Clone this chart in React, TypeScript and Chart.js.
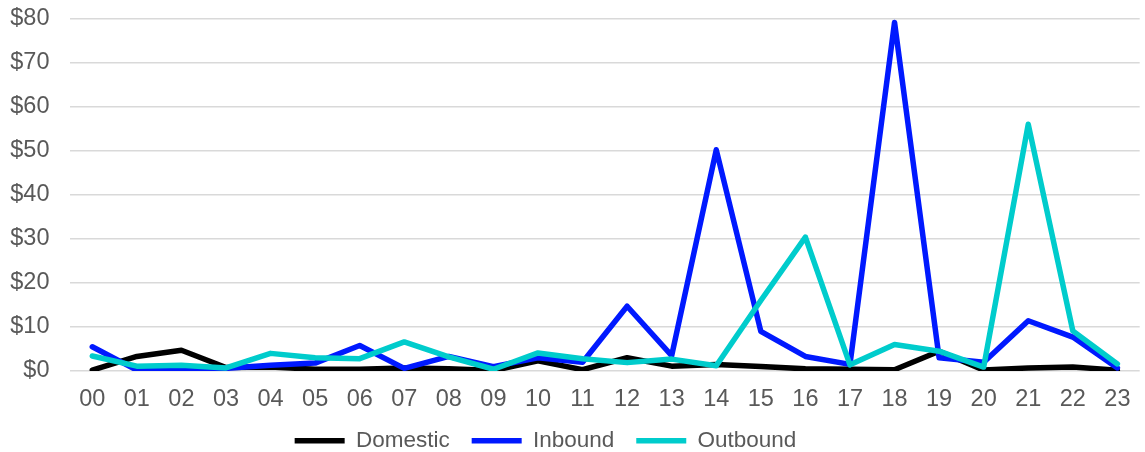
import React, { useEffect, useRef } from "react";
import { Chart, registerables } from "chart.js";

Chart.register(...registerables);

const hours = ["00","01","02","03","04","05","06","07","08","09","10","11","12","13","14","15","16","17","18","19","20","21","22","23"];
const domestic = [0.2, 3.3, 4.7, 0.8, 0.9, 0.4, 0.4, 0.7, 0.5, 0.1, 2.3, 0.3, 3.0, 1.1, 1.5, 1.0, 0.5, 0.4, 0.3, 4.5, 0.2, 0.7, 0.9, 0.2];
const inbound = [5.5, 0.2, 0.3, 0.6, 1.3, 1.8, 5.8, 0.6, 3.3, 1.0, 3.0, 2.0, 14.7, 3.5, 50.2, 9.0, 3.3, 1.5, 79.1, 3.0, 2.0, 11.4, 7.7, 0.7];
const outbound = [3.4, 1.1, 1.3, 0.7, 4.0, 3.0, 2.8, 6.6, 3.2, 0.4, 4.1, 2.8, 1.9, 2.7, 1.2, 16.0, 30.4, 1.4, 6.0, 4.5, 0.9, 56.0, 9.1, 1.6];
const yTicks = [0, 10, 20, 30, 40, 50, 60, 70, 80];

const TEXT = "#595959";
const FONT = "'Liberation Sans', Arial, sans-serif";

const legendShift = {
  id: "legendShift",
  afterLayout(chart: any) {
    const l = chart.legend;
    if (l) {
      l.left -= 30;
      l.right -= 30;
      l.top += 10;
      l.bottom += 10;
    }
    const x = chart.scales.x;
    if (x) x.bottom = chart.height;
  },
};

export default function App() {
  const ref = useRef<HTMLCanvasElement | null>(null);
  useEffect(() => {
    document.body.style.margin = "0";
    if (!ref.current) return;
    const common = {
      borderWidth: 5.5,
      pointRadius: 0,
      pointHoverRadius: 0,
      tension: 0,
      borderCapStyle: "round" as const,
      borderJoinStyle: "round" as const,
      fill: false,
    };
    const chart = new Chart(ref.current, {
      type: "line",
      data: {
        labels: hours,
        datasets: [
          { label: "Domestic", data: domestic, borderColor: "#000000", backgroundColor: "#000000", order: 2, ...common },
          { label: "Inbound", data: inbound, borderColor: "#0019ff", backgroundColor: "#0019ff", order: 1, ...common },
          { label: "Outbound", data: outbound, borderColor: "#00cccc", backgroundColor: "#00cccc", order: 0, ...common },
        ],
      },
      options: {
        animation: false,
        responsive: false,
        layout: { padding: { left: 8, right: 2, top: 0, bottom: 0 } },
        scales: {
          x: {
            offset: true,
            grid: { display: false, drawTicks: false },
            border: { display: false },
            ticks: { color: TEXT, font: { family: FONT, size: 23.5 }, padding: 14.5, maxRotation: 0, autoSkip: false },
            afterFit: (scale: any) => { scale.height = 26.5; },
          },
          y: {
            min: 0,
            max: 80,
            afterBuildTicks: (scale: any) => { scale.ticks = yTicks.map((v) => ({ value: v })); },
            afterFit: (scale: any) => {
              scale.width = 62;
              scale.paddingTop = 18.5;
              scale.paddingBottom = 14;
            },
            grid: { color: "#d9d9d9", lineWidth: 1.5, drawTicks: false },
            border: { display: false },
            ticks: {
              color: TEXT,
              font: { family: FONT, size: 23.5 },
              padding: 20.5,
              callback: (v: any) => "$" + v,
            },
          },
        },
        plugins: {
          tooltip: { enabled: false },
          legend: {
            position: "bottom",
            labels: {
              color: TEXT,
              font: { family: FONT, size: 22.5 },
              usePointStyle: true,
              pointStyle: "line",
              pointStyleWidth: 50,
              boxHeight: 5,
              padding: 22,
              sort: (a: any, b: any) => a.datasetIndex - b.datasetIndex,
            },
          },
        },
      },
      plugins: [legendShift],
    } as any);
    return () => chart.destroy();
  }, []);
  return (
    <div style={{ width: 1145, height: 452 }}>
      <canvas ref={ref} width={1145} height={452} style={{ display: "block" }} />
    </div>
  );
}
